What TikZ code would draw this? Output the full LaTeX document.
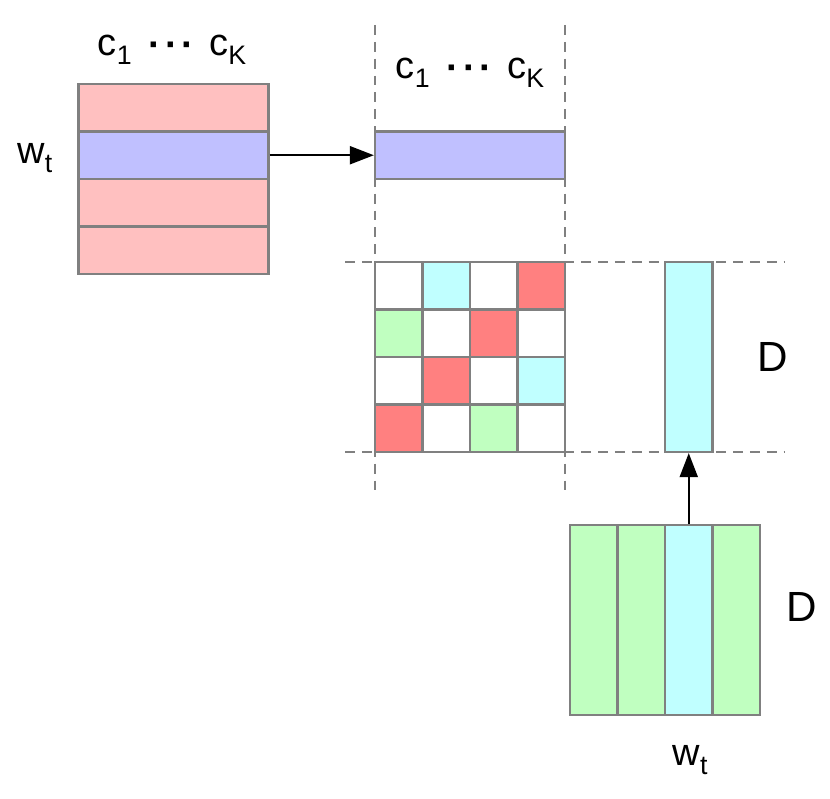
\documentclass[tikz,border=0pt]{standalone}
\usepackage{fontspec}
\setmainfont{Liberation Sans}
\usepackage{graphicx}
\usepackage{tikz}
\usetikzlibrary{arrows.meta}
\definecolor{rowpink}{HTML}{FFC0C0}
\definecolor{rowblue}{HTML}{C0C0FF}
\definecolor{cellcyan}{HTML}{C0FFFF}
\definecolor{cellred}{HTML}{FF8080}
\definecolor{cellgreen}{HTML}{C0FFC0}
\definecolor{edgegray}{HTML}{808080}
\newcommand{\idx}[1]{\raisebox{-0.45ex}{\fontsize{19}{19}\selectfont #1}}
\newcommand{\dotrow}{\raisebox{-0.1ex}{\textbf{·\hspace{0.1em}·\hspace{0.1em}·}}}

\begin{document}
\begin{tikzpicture}[x=0.025cm, y=0.025cm,
    rowbox/.style={draw=edgegray, line width=1.6pt, inner sep=0pt, minimum width=4.75cm, minimum height=1.1875cm},
    cellbox/.style={draw=edgegray, line width=1.6pt, inner sep=0pt, minimum size=1.1875cm},
    colbox/.style={draw=edgegray, line width=1.6pt, inner sep=0pt, minimum width=1.1875cm, minimum height=4.75cm},
    guide/.style={draw=edgegray, line width=1.5pt, dash pattern=on 7pt off 5pt},
    lbl/.style={font=\fontsize{27}{30}\selectfont, inner sep=0pt},
    link/.style={-{Triangle[length=0.6cm, width=0.45cm]}, line width=1.5pt}]
\useasboundingbox (0,0) rectangle (830,799);
        \begin{scope}
% guide lines
\coordinate (vl1) at (375,774);
\coordinate (vl2) at (375,306);
\coordinate (vr1) at (565,774);
\coordinate (vr2) at (565,306);
\coordinate (ht1) at (345,537);
\coordinate (ht2) at (785,537);
\coordinate (hb1) at (345,347);
\coordinate (hb2) at (785,347);
\draw[guide] (vl1) -- (vl2);
\draw[guide] (vr1) -- (vr2);
\draw[guide] (ht1) -- (ht2);
\draw[guide] (hb1) -- (hb2);
% word-topic matrix
\node[lbl] (topicsA) at (172,749) {c\idx{1}\hspace{0.45em}\dotrow\hspace{0.4em}c\idx{K}};
\node[rowbox, fill=rowpink] (rowA) at (173.5,691.25) {};
\node[rowbox, fill=rowblue] (rowB) at (173.5,643.75) {};
\node[rowbox, fill=rowpink] (rowC) at (173.5,596.25) {};
\node[rowbox, fill=rowpink] (rowD) at (173.5,548.75) {};
\node[lbl] (wordA) at (35,641) {w\idx{t}};
% selected row
\node[lbl] (topicsB) at (470,726) {c\idx{1}\hspace{0.45em}\dotrow\hspace{0.4em}c\idx{K}};
\node[rowbox, fill=rowblue] (rowsel) at (470,643.75) {};
\draw[link] (rowB.east) -- (rowsel.west);
% topic-document matrix
\node[cellbox, fill=white] (c11) at (398.75,513.25) {};
\node[cellbox, fill=cellcyan] (c12) at (446.25,513.25) {};
\node[cellbox, fill=white] (c13) at (493.75,513.25) {};
\node[cellbox, fill=cellred] (c14) at (541.25,513.25) {};
\node[cellbox, fill=cellgreen] (c21) at (398.75,465.75) {};
\node[cellbox, fill=white] (c22) at (446.25,465.75) {};
\node[cellbox, fill=cellred] (c23) at (493.75,465.75) {};
\node[cellbox, fill=white] (c24) at (541.25,465.75) {};
\node[cellbox, fill=white] (c31) at (398.75,418.25) {};
\node[cellbox, fill=cellred] (c32) at (446.25,418.25) {};
\node[cellbox, fill=white] (c33) at (493.75,418.25) {};
\node[cellbox, fill=cellcyan] (c34) at (541.25,418.25) {};
\node[cellbox, fill=cellred] (c41) at (398.75,370.75) {};
\node[cellbox, fill=white] (c42) at (446.25,370.75) {};
\node[cellbox, fill=cellgreen] (c43) at (493.75,370.75) {};
\node[cellbox, fill=white] (c44) at (541.25,370.75) {};
% selected column
\node[colbox, fill=cellcyan] (colsel) at (688.75,442) {};
\node[lbl, font=\fontsize{30}{32}\selectfont] (dimA) at (773,442) {D};
% document matrix
\node[colbox, fill=cellgreen] (colA) at (593.75,179) {};
\node[colbox, fill=cellgreen] (colB) at (641.25,179) {};
\node[colbox, fill=cellcyan] (colC) at (688.75,179) {};
\node[colbox, fill=cellgreen] (colD) at (736.25,179) {};
\node[lbl, font=\fontsize{30}{32}\selectfont] (dimB) at (802,192) {D};
\node[lbl] (wordB) at (690,39) {w\idx{t}};
\draw[link] (colC.north) -- (colsel.south);
\end{scope}
    \end{tikzpicture}
\end{document}
